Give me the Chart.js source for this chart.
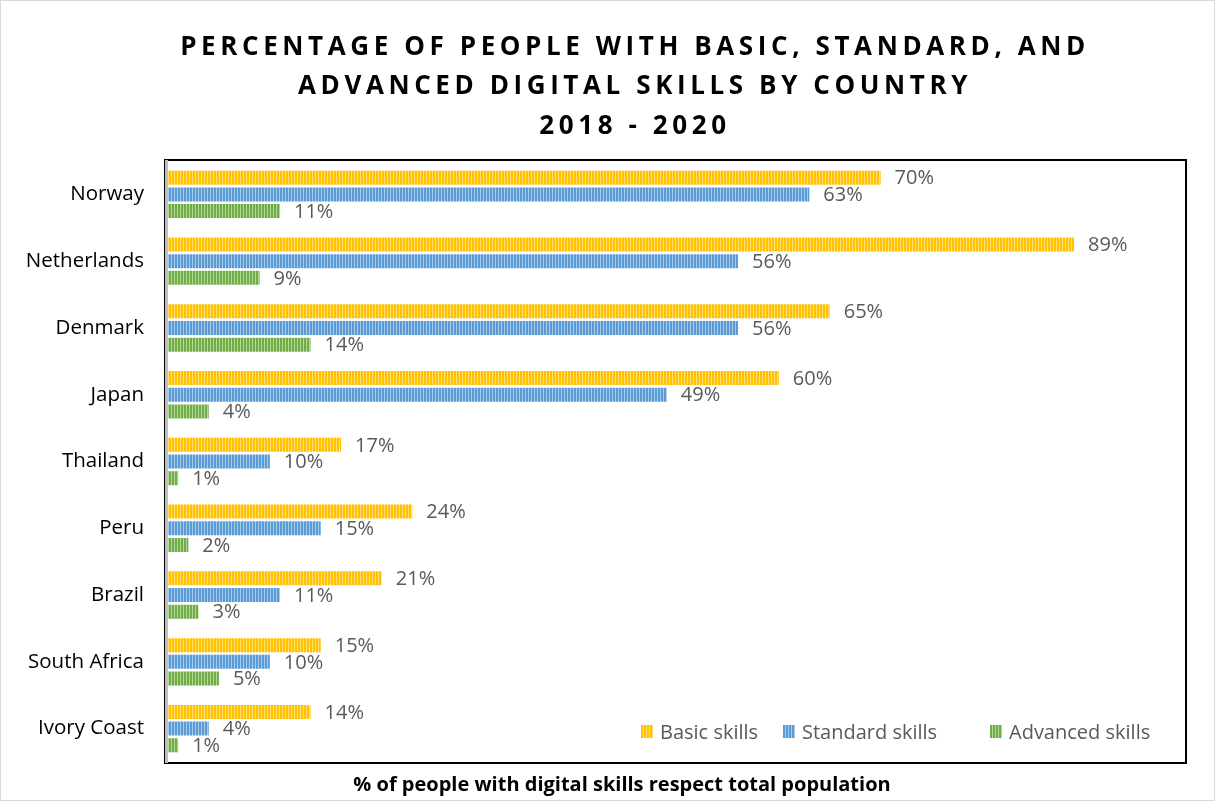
<!DOCTYPE html>
<html>
<head>
<meta charset="utf-8">
<script src="https://cdn.jsdelivr.net/npm/chart.js@4"></script>
<style>
  html, body { margin: 0; padding: 0; background: #fff; }
  #wrap { position: relative; width: 1215px; height: 801px; box-sizing: border-box; border: 1px solid #d9d9d9; }
  canvas { display: block; }
</style>
</head>
<body>
<div id="wrap"><canvas id="skillsChart" width="1213" height="799"></canvas></div>
<script>
// Digital skills by country, 2018 - 2020
const countries = ['Norway', 'Netherlands', 'Denmark', 'Japan', 'Thailand', 'Peru', 'Brazil', 'South Africa', 'Ivory Coast'];
const basicSkills = [70, 89, 65, 60, 17, 24, 21, 15, 14];
const standardSkills = [63, 56, 56, 49, 10, 15, 11, 10, 4];
const advancedSkills = [11, 9, 14, 4, 1, 2, 3, 5, 1];
const seriesNames = ['Basic skills', 'Standard skills', 'Advanced skills'];
const titleLines = ['PERCENTAGE OF PEOPLE WITH BASIC, STANDARD, AND', 'ADVANCED DIGITAL SKILLS BY COUNTRY', '2018 - 2020'];
const axisTitle = '% of people with digital skills respect total population';

const FONT = '"Open Sans", "DejaVu Sans", sans-serif';

// vertical stripe fill, like the Excel "narrow vertical" pattern
function stripes(base, light) {
    const c = document.createElement('canvas');
    c.width = 3; c.height = 4;
    const g = c.getContext('2d');
    g.fillStyle = base;
    g.fillRect(0, 0, 3, 4);
    g.fillStyle = light;
    g.fillRect(2, 0, 1, 4);
    return g.createPattern(c, 'repeat');
}

const ctx = document.getElementById('skillsChart').getContext('2d');
const fills = [
    stripes('#ffc000', '#ffe07a'),
    stripes('#5b9bd5', '#a9cbea'),
    stripes('#70ad47', '#b3d69b')
];

const headerPlugin = {
    id: 'header',
    afterDraw(chart) {
        const c = chart.ctx;
        const cx = 632;
        c.save();
        c.fillStyle = '#000';
        c.textAlign = 'center';
        c.textBaseline = 'middle';
        c.font = 'bold 26px ' + FONT;
        c.letterSpacing = '4.6px';
        const ys = [47, 86, 126];
        titleLines.forEach((t, i) => c.fillText(t, cx + 2, ys[i]));
        c.letterSpacing = '0px';
        c.font = 'bold 20px "Liberation Sans Narrow", ' + FONT;
        c.fillText(axisTitle, 621, 784);
        c.restore();
    }
};

const frameAndLabels = {
    id: 'frameAndLabels',
    afterDatasetsDraw(chart) {
        const c = chart.ctx;
        const a = chart.chartArea;
        c.save();
        // plot frame
        c.strokeStyle = '#000';
        c.lineWidth = 2;
        c.strokeRect(a.left - 3, a.top - 1, a.right - a.left + 3, a.bottom - a.top + 2);
        c.strokeStyle = '#bfbfbf';
        c.lineWidth = 3;
        c.beginPath();
        c.moveTo(a.left - 1.5, a.top - 1);
        c.lineTo(a.left - 1.5, a.bottom + 1);
        c.stroke();

        // value labels
        c.fillStyle = '#595959';
        c.font = '20px ' + FONT;
        c.textAlign = 'left';
        c.textBaseline = 'middle';
        chart.data.datasets.forEach((ds, i) => {
            chart.getDatasetMeta(i).data.forEach((bar, j) => {
                c.fillText(ds.data[j] + '%', bar.x + 14, bar.y + 1);
            });
        });

        // legend inside the plot, bottom right
        const lx = [640, 782, 989];
        const ly = 731;
        c.font = '20px ' + FONT;
        seriesNames.forEach((name, i) => {
            c.save();
            c.translate(lx[i], ly - 7);
            c.fillStyle = fills[i];
            c.fillRect(0, 0, 12, 13);
            c.restore();
            c.fillText(name, lx[i] + 19, ly + 1);
        });
        c.restore();
    }
};

const chart = new Chart(ctx, {
    type: 'bar',
    data: {
        labels: countries,
        datasets: [basicSkills, standardSkills, advancedSkills].map((d, i) => ({
            label: seriesNames[i],
            data: d,
            backgroundColor: fills[i],
            borderWidth: 0,
            categoryPercentage: 0.75,
            barPercentage: 0.84
        }))
    },
    options: {
        indexAxis: 'y',
        responsive: false,
        animation: false,
        layout: { padding: { left: 0, right: 28, top: 160, bottom: 38 } },
        plugins: {
            legend: { display: false },
            title: { display: false },
            tooltip: { enabled: false }
        },
        scales: {
            x: {
                display: false,
                min: 0,
                max: 100
            },
            y: {
                afterFit(scale) { scale.width = 167; },
                grid: { display: false, drawTicks: false },
                border: { display: false },
                ticks: {
                    color: '#000',
                    font: { family: FONT, size: 20.5 },
                    padding: 24
                }
            }
        }
    },
    plugins: [headerPlugin, frameAndLabels]
});
</script>
</body>
</html>
